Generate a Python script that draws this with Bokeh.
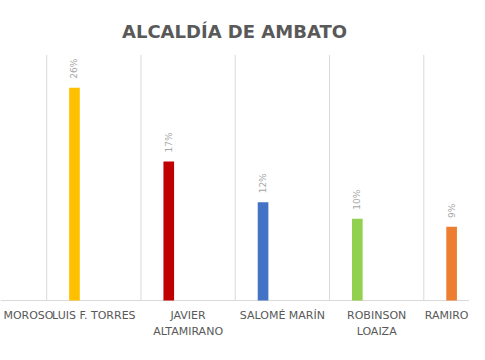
import math
from bokeh.plotting import figure
from bokeh.models import Range1d, ColumnDataSource
from bokeh.core.properties import value
from bokeh.embed import file_html
from bokeh.resources import INLINE

# ---------------- data ----------------
title_text = "ALCALDÍA DE AMBATO"
candidates = ["MOROSO", "LUIS F. TORRES", "JAVIER\nALTAMIRANO", "SALOMÉ MARÍN",
              "ROBINSON\nLOAIZA", "RAMIRO"]
votes_pct = [None, 26, 17, 12, 10, 9]
pct_labels = ["", "26%", "17%", "12%", "10%", "9%"]
bar_colors = ["#A5A5A5", "#FFC000", "#C00000", "#4472C4", "#92D050", "#ED7D31"]
axis_max_pct = 30

# ---------------- layout constants ----------------
W, H = 469, 344
SX, SY = W / 485, H / 360      # the chart is laid out on a 485x360 sheet, scaled to fit
CAT_PX = 97.5 * SX             # width of one category
CAT0_X = -1.0 * SX             # x of first category centre
BASE_Y = 314.0 * SY            # y of 0 %
TOP_Y = 57.0 * SY              # y of axis maximum
PX_PER_PCT = (BASE_Y - TOP_Y) / axis_max_pct
BAR_W_PX = 11 * SX
BAR_OFF_PX = -20 * SX
LABEL_GAP_PX = 9.4 * SY
FONT = "DejaVu Sans"

def px_x(x):
    return (x - CAT0_X) / CAT_PX

def px_y(y):
    return (BASE_Y - y) / PX_PER_PCT

p = figure(width=W, height=H, x_range=Range1d(px_x(0), px_x(W)),
           y_range=Range1d(px_y(H), px_y(0)),
           output_backend="svg", toolbar_location=None,
           min_border=0, min_border_left=0, min_border_right=0,
           min_border_top=0, min_border_bottom=0)
p.axis.visible = False
p.grid.visible = False
p.outline_line_color = None
p.background_fill_color = "white"
p.border_fill_color = "white"

# vertical gridlines at category boundaries
n = len(candidates)
bounds = [i + 0.5 for i in range(-1, n)]
p.segment(x0=bounds, x1=bounds, y0=[0] * len(bounds), y1=[axis_max_pct] * len(bounds),
          line_color="#D9D9D9", line_width=1)
# baseline (category axis line)
p.segment(x0=[px_x(0)], x1=[px_x(W)], y0=[0], y1=[0],
          line_color="#D9D9D9", line_width=1)

# bars
idx = [i for i, v in enumerate(votes_pct) if v is not None]
off = BAR_OFF_PX / CAT_PX
src = ColumnDataSource(dict(
    x=[i + off for i in idx],
    top=[votes_pct[i] for i in idx],
    color=[bar_colors[i] for i in idx],
    lab=[pct_labels[i] for i in idx],
    ly=[votes_pct[i] + LABEL_GAP_PX / PX_PER_PCT for i in idx],
))
p.vbar(x="x", top="top", bottom=0, width=BAR_W_PX / CAT_PX, color="color",
       line_color=None, source=src)
p.text(x="x", y="ly", text="lab", source=src, angle=math.pi / 2,
       text_align="left", text_baseline="middle",
       text_font=value(FONT), text_font_size="9px", text_color="#A6A6A6")

# category labels
TICK_TOP_Y = 308.0
mid = list(range(1, n - 1))
p.text(x=mid, y=[px_y(TICK_TOP_Y)] * len(mid), text=[candidates[i] for i in mid],
       text_align="center", text_baseline="top", text_line_height=1.27,
       text_font=value(FONT), text_font_size="11px", text_color="#595959")
# edge labels (the chart is cropped at both sides)
p.text(x=[px_x(53.0)], y=[px_y(TICK_TOP_Y)], text=[candidates[0]],
       text_align="right", text_baseline="top",
       text_font=value(FONT), text_font_size="11px", text_color="#595959")
p.text(x=[px_x(W - 1)], y=[px_y(TICK_TOP_Y)], text=[candidates[-1]],
       text_align="right", text_baseline="top",
       text_font=value(FONT), text_font_size="11px", text_color="#595959")

# title
p.text(x=[px_x(242 * SX)], y=[px_y(32.3 * SY)], text=[title_text],
       text_align="center", text_baseline="alphabetic",
       text_font=value(FONT), text_font_style="bold",
       text_font_size="18px", text_color="#595959")

open("out.html", "w").write(file_html(p, INLINE))
